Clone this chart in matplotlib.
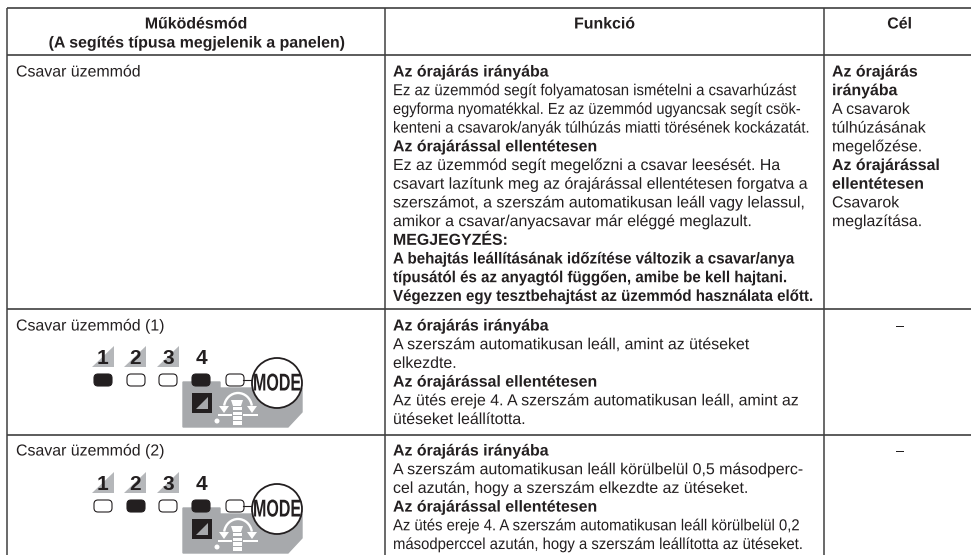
"""plot.py — Hungarian mode table with panel icons, drawn in pixel coordinates."""

import matplotlib
matplotlib.use("Agg")
import matplotlib.pyplot as plt
from matplotlib.patches import Arc, Circle, FancyBboxPatch, Polygon, Rectangle
from matplotlib.patheffects import AbstractPathEffect
from matplotlib.transforms import Affine2D

plt.rcParams["font.family"] = ["Liberation Sans", "DejaVu Sans"]

W, H = 971, 555
INK = "#231f20"
GREY = "#a7a9ac"
RULE = "#404040"
FS = 11.45

headers = ["Működésmód", "(A segítés típusa megjelenik a panelen)", "Funkció", "Cél"]
mode_names = ["Csavar üzemmód", "Csavar üzemmód (1)", "Csavar üzemmód (2)"]

func_rows = [
    ["Az órajárás irányába",
     "Ez az üzemmód segít folyamatosan ismételni a csavarhúzást",
     "egyforma nyomatékkal. Ez az üzemmód ugyancsak segít csök-",
     "kenteni a csavarok/anyák túlhúzás miatti törésének kockázatát.",
     "Az órajárással ellentétesen",
     "Ez az üzemmód segít megelőzni a csavar leesését. Ha",
     "csavart lazítunk meg az órajárással ellentétesen forgatva a",
     "szerszámot, a szerszám automatikusan leáll vagy lelassul,",
     "amikor a csavar/anyacsavar már eléggé meglazult.",
     "MEGJEGYZÉS:",
     "A behajtás leállításának időzítése változik a csavar/anya",
     "típusától és az anyagtól függően, amibe be kell hajtani.",
     "Végezzen egy tesztbehajtást az üzemmód használata előtt."],
    ["Az órajárás irányába",
     "A szerszám automatikusan leáll, amint az ütéseket",
     "elkezdte.",
     "Az órajárással ellentétesen",
     "Az ütés ereje 4. A szerszám automatikusan leáll, amint az",
     "ütéseket leállította."],
    ["Az órajárás irányába",
     "A szerszám automatikusan leáll körülbelül 0,5 másodperc-",
     "cel azután, hogy a szerszám elkezdte az ütéseket.",
     "Az órajárással ellentétesen",
     "Az ütés ereje 4. A szerszám automatikusan leáll körülbelül 0,2",
     "másodperccel azután, hogy a szerszám leállította az ütéseket."],
]
goal_lines = ["Az órajárás", "irányába", "A csavarok", "túlhúzásának", "megelőzése.",
              "Az órajárással", "ellentétesen", "Csavarok", "meglazítása."]
goal_dash = "–"

digits = ["1", "2", "3", "4"]
lit_leds = [[0, 3], [1, 3]]  # which LEDs are on, per icon
mode_label = "MODE"

bold_lines = {"Az órajárás irányába", "Az órajárással ellentétesen", "MEGJEGYZÉS:",
              "Az órajárás", "irányába", "Az órajárással", "ellentétesen",
              "A behajtás leállításának időzítése változik a csavar/anya",
              "típusától és az anyagtól függően, amibe be kell hajtani.",
              "Végezzen egy tesztbehajtást az üzemmód használata előtt."}

# the source sets some lines tighter so they fit the column
squeeze = {func_rows[0][1]: 0.937, func_rows[0][2]: 0.917, func_rows[0][3]: 0.937,
           func_rows[0][10]: 0.949, func_rows[0][11]: 0.949, func_rows[0][12]: 0.949,
           func_rows[2][4]: 0.933, func_rows[2][5]: 0.935}

# table grid, pixels
col_x = [7, 385, 824, 971]
row_y = [8, 55, 309, 435, 555]
row_text_y = [72, 326, 451]
line_h = 18.7

fig = plt.figure(figsize=(W / 100, H / 100), dpi=100)
ax = fig.add_axes([0, 0, 1, 1])
ax.set_xlim(0, W)
ax.set_ylim(H, 0)
ax.axis("off")


class SqueezeX(AbstractPathEffect):
    """Scale a text line horizontally about its left edge."""

    def __init__(self, x0, sx):
        super().__init__()
        self.x0, self.sx = x0, sx

    def draw_path(self, renderer, gc, tpath, affine, rgbFace=None):
        fit = Affine2D().translate(-self.x0, 0).scale(self.sx, 1).translate(self.x0, 0)
        renderer.draw_path(gc, tpath, affine + fit, rgbFace)


def txt(x, y, s, bold=False, ha="left"):
    t = ax.text(x, y, s, fontsize=FS, color=INK, ha=ha, va="center",
                fontweight="bold" if bold else "normal")
    # all lines go through the path effect so they are rasterised alike
    t.set_path_effects([SqueezeX(x, squeeze.get(s, 1.0))])


def mode_icon(y0, lit):
    # y0 is the LED row centre
    digit_x = [103, 135, 168, 201]
    for i, d in enumerate(digits):
        x = digit_x[i]
        if i < 3:
            ax.add_patch(Polygon([(x - 11, y0 - 13), (x + 11, y0 - 13), (x + 11, y0 - 34)],
                                 fc="#b5b7ba", ec="none", zorder=2))
        ax.text(x, y0 - 21.5, d, fontsize=15, fontweight="bold", color=INK,
                ha="center", va="center", zorder=3)

    # grey panel behind the last LED, bottom right corner cut off
    ax.add_patch(Polygon([(183, y0 + 2), (220, y0 + 2), (220, y0 + 8), (302, y0 + 8),
                          (302, y0 + 32), (288, y0 + 47), (183, y0 + 47)],
                         fc=GREY, ec=GREY, lw=1, zorder=1))

    led_x = [103, 136, 168, 201, 235]
    for i, x in enumerate(led_x):
        on = i in lit
        ax.add_patch(FancyBboxPatch((x - 9, y0 - 6), 18, 12, boxstyle="round,pad=0,rounding_size=4",
                                    fc=INK if on else "white", ec=INK, lw=0.8, zorder=3))

    # black square with grey corner
    ax.add_patch(Rectangle((192, y0 + 13), 19.5, 19.5, fc=INK, ec="none", zorder=2))
    ax.add_patch(Polygon([(196, y0 + 29), (208, y0 + 29), (208, y0 + 17)], fc=GREY, ec="none", zorder=3))

    # screw symbol with turn arrows
    for x0, x1 in [(218, 232), (243, 258)]:
        ax.add_patch(Rectangle((x0, y0 + 34), x1 - x0, 2, fc="white", ec="none", zorder=3))
    ax.add_patch(Circle((217, y0 + 41), 2.5, fc="white", ec="none", zorder=3))
    ax.add_patch(Arc((238, y0 + 28), 28, 30, theta1=190, theta2=350, ec="white", lw=1.7, zorder=3))
    for x in [224, 252]:
        ax.add_patch(Polygon([(x - 5, y0 + 26), (x + 5, y0 + 26), (x, y0 + 33)], fc="white", ec="none", zorder=3))
    ax.add_patch(Polygon([(231, y0 + 20), (243, y0 + 20), (241, y0 + 26), (233, y0 + 26)],
                         fc="white", ec="none", zorder=3))
    for k in range(4):
        ax.add_patch(Rectangle((232.5, y0 + 27 + k * 4.7), 9, 3.4, fc="white", ec="none", zorder=3))

    # MODE button and connector
    ax.plot([243, 254], [y0, y0], color=INK, lw=0.8, zorder=3)
    ax.add_patch(Circle((277, y0 + 3), 25, fc="white", ec=INK, lw=1.3, zorder=4))
    t = ax.text(277, y0 + 4, mode_label, fontsize=17.5, fontweight="bold", color=INK,
                ha="center", va="center", zorder=5)
    t.set_path_effects([SqueezeX(277, 0.66)])


# grid
for x in col_x[:-1]:
    ax.plot([x, x], [row_y[0], row_y[-1]], color=RULE, lw=1.1, zorder=1, solid_capstyle="butt")
for y in row_y[:-1]:
    ax.plot([col_x[0], W], [y, y], color=RULE, lw=1.2, zorder=1, solid_capstyle="butt")

# header
txt((col_x[0] + col_x[1]) / 2, 24, headers[0], True, "center")
txt((col_x[0] + col_x[1]) / 2, 43, headers[1], True, "center")
txt((col_x[1] + col_x[2]) / 2, 24, headers[2], True, "center")
txt((col_x[2] + col_x[3]) / 2 + 2, 24, headers[3], True, "center")

# rows
for name, fn, y0 in zip(mode_names, func_rows, row_text_y):
    txt(16, y0, name)
    for j, s in enumerate(fn):
        txt(393, y0 + j * line_h, s, s in bold_lines)

for j, s in enumerate(goal_lines):
    txt(832, row_text_y[0] + j * line_h, s, s in bold_lines)
for y0 in row_text_y[1:]:
    txt(900, y0, goal_dash, ha="center")

for y0, lit in zip([380, 506], lit_leds):
    mode_icon(y0, lit)

fig.savefig("out.png", dpi=100)
